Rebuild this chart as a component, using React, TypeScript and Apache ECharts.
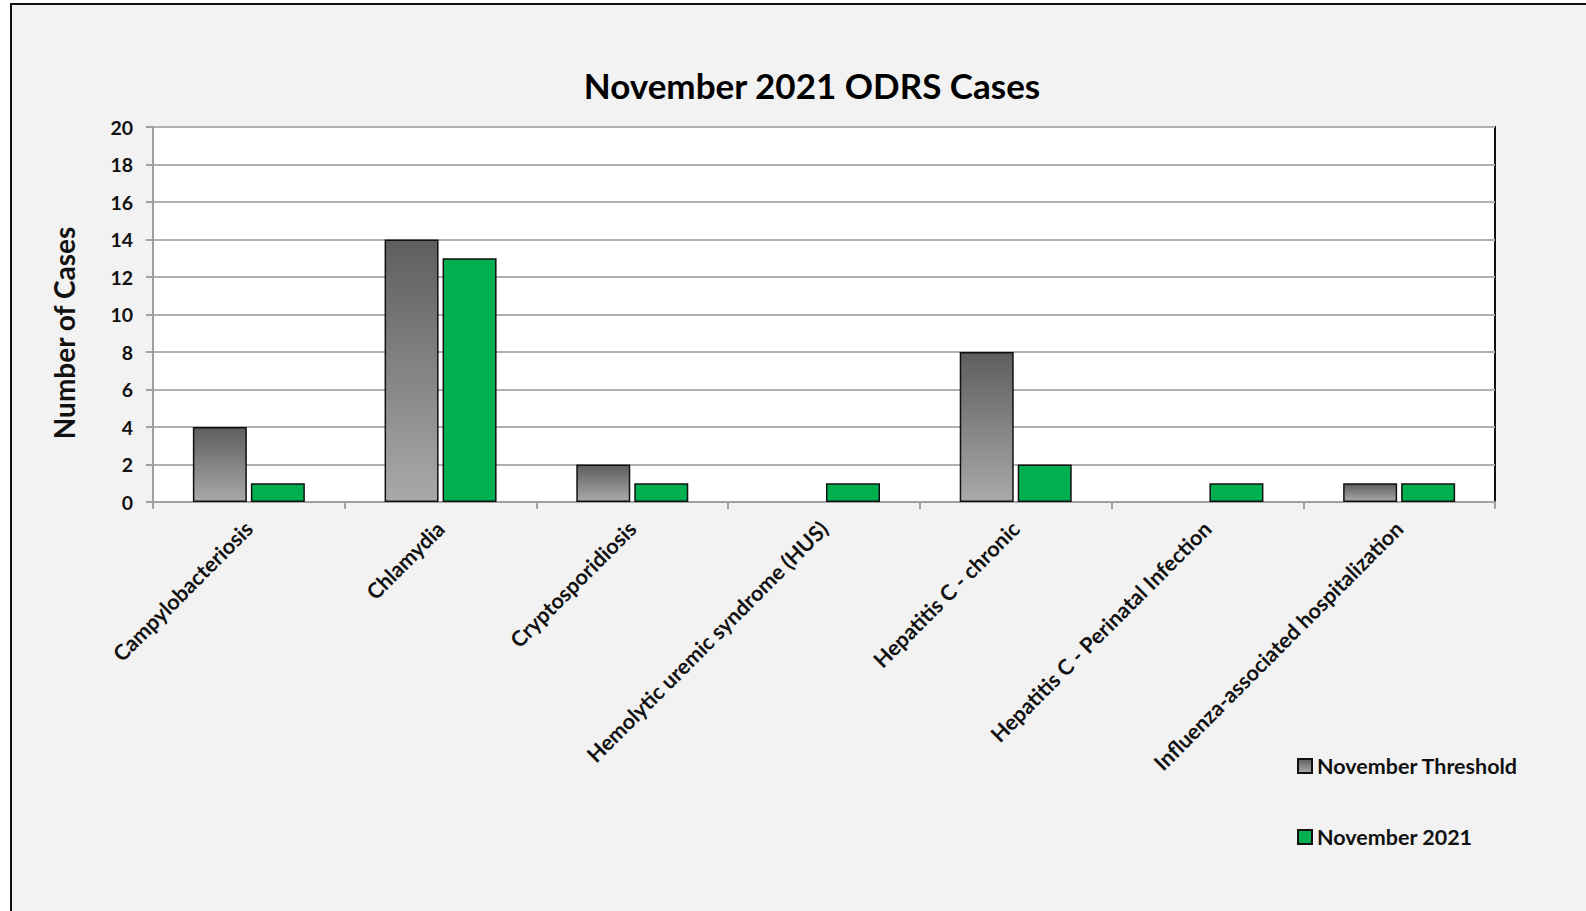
import React, { useEffect, useRef } from "react";
import * as echarts from "echarts";

const categories = [
  "Campylobacteriosis",
  "Chlamydia",
  "Cryptosporidiosis",
  "Hemolytic uremic syndrome (HUS)",
  "Hepatitis C - chronic",
  "Hepatitis C - Perinatal Infection",
  "Influenza-associated hospitalization",
];
const thresholdValues = [4, 14, 2, 0, 8, 0, 1];
const currentValues = [1, 13, 1, 1, 2, 1, 1];
const seriesNames = ["November Threshold", "November 2021"];
const titleText = "November 2021 ODRS Cases";
const yAxisTitle = "Number of Cases";

const FONT = "Lato, 'Noto Sans', sans-serif";

export default function App() {
  const ref = useRef<HTMLDivElement>(null);
  useEffect(() => {
    document.body.style.margin = "0";
    if (!ref.current) return;
    const chart = echarts.init(ref.current, undefined, { renderer: "svg" });
    const grayGrad = new echarts.graphic.LinearGradient(0, 0, 0, 1, [
      { offset: 0, color: "#5e5e5e" },
      { offset: 1, color: "#a9a9a9" },
    ]);
    const mk = (vals: number[]) =>
      vals.map((v) => (v === 0 ? { value: v, itemStyle: { borderWidth: 0 } } : v));
    chart.setOption({
      animation: false,
      backgroundColor: "#ffffff",
      textStyle: { fontFamily: FONT },
      graphic: [
        {
          type: "rect",
          z: -10,
          silent: true,
          shape: { x: 11, y: 4, width: 1600, height: 1000 },
          style: { fill: "#f2f2f2", stroke: "#111", lineWidth: 2 },
        },
        {
          type: "text",
          x: 812,
          y: 85,
          style: {
            text: titleText,
            align: "center",
            verticalAlign: "middle",
            font: `bold 35px ${FONT}`,
            fill: "#000",
          },
        },
        {
          type: "text",
          x: 64,
          y: 333,
          rotation: Math.PI / 2,
          style: {
            text: yAxisTitle,
            align: "center",
            verticalAlign: "middle",
            font: `bold 28px ${FONT}`,
            fill: "#111",
          },
        },
      ],
      grid: {
        left: 153,
        top: 127,
        width: 1342,
        height: 375,
        show: true,
        backgroundColor: "#ffffff",
        borderColor: "#111",
        borderWidth: 2,
      },
      legend: {
        orient: "vertical",
        left: 1292,
        top: 750,
        itemWidth: 14,
        itemHeight: 14,
        itemGap: 49,
        icon: "rect",
        data: seriesNames,
        textStyle: { fontFamily: FONT, fontWeight: "bold", fontSize: 21.5, color: "#111" },
      },
      xAxis: {
        type: "category",
        data: categories,
        axisLine: { lineStyle: { color: "#a0a0a0", width: 2 } },
        axisTick: { show: true, length: 7, lineStyle: { color: "#a0a0a0", width: 2 } },
        axisLabel: {
          interval: 0,
          rotate: 45,
          margin: 23,
          fontFamily: FONT,
          fontWeight: "bold",
          fontSize: 21.5,
          color: "#111",
        },
      },
      yAxis: {
        type: "value",
        min: 0,
        max: 20,
        interval: 2,
        axisLine: { show: true, lineStyle: { color: "#a0a0a0", width: 2 } },
        axisTick: { show: true, length: 7, lineStyle: { color: "#a0a0a0", width: 2 } },
        splitLine: { lineStyle: { color: "#b0b0b0", width: 2 } },
        axisLabel: {
          margin: 20,
          fontFamily: FONT,
          fontWeight: "bold",
          fontSize: 19.5,
          color: "#111",
        },
      },
      series: [
        {
          name: seriesNames[0],
          type: "bar",
          data: mk(thresholdValues),
          barWidth: 54,
          barGap: "7.4%",
          itemStyle: { color: grayGrad, borderColor: "#111", borderWidth: 1.5 },
        },
        {
          name: seriesNames[1],
          type: "bar",
          data: mk(currentValues),
          barWidth: 54,
          barGap: "7.4%",
          itemStyle: { color: "#00b050", borderColor: "#111", borderWidth: 1.5 },
        },
      ],
    });
    return () => chart.dispose();
  }, []);
  return <div ref={ref} style={{ width: 1586, height: 911 }} />;
}
